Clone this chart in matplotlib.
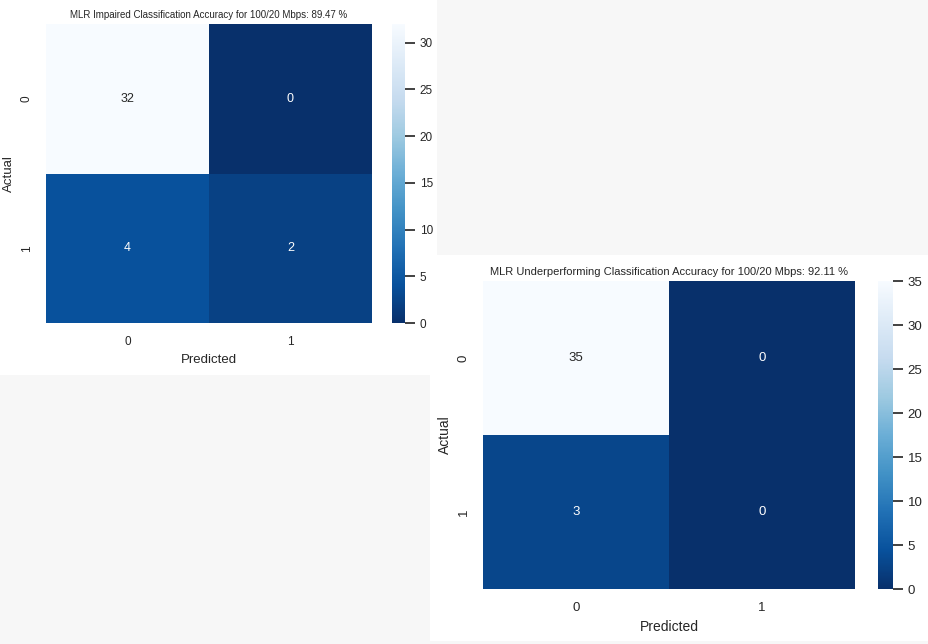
import numpy as np
import matplotlib
matplotlib.use('Agg')
import matplotlib.pyplot as plt
from matplotlib.patches import Rectangle
import seaborn as sns

# confusion matrices
labels = ['0', '1']
cm_impaired = np.array([[32, 0],
                        [4, 2]])
cm_under = np.array([[35, 0],
                     [3, 0]])
acc_impaired = 89.47
acc_under = 92.11

sns.set_theme(style='darkgrid')
plt.rcParams['font.family'] = ['Liberation Sans', 'DejaVu Sans']

W, H = 929, 644
fig = plt.figure(figsize=(W / 100, H / 100), dpi=100)
fig.patch.set_facecolor('#f7f7f7')


def px_box(x0, y0, x1, y1):
    # pixel box (top-left origin) -> figure fraction [l, b, w, h]
    return [x0 / W, (H - y1) / H, (x1 - x0) / W, (y1 - y0) / H]


# white panels behind each plot
for (x0, y0, x1, y1) in [(0, 0, 437, 375), (430, 255, 929, 641)]:
    l, b, w, h = px_box(x0, y0, x1, y1)
    fig.patches.append(Rectangle((l, b), w, h, transform=fig.transFigure,
                                 facecolor='white', edgecolor='none', zorder=-5))


def draw_cm(cm, title, ax_box, cb_box, fs_title, fs_tick, fs_annot, fs_label, tick_len):
    ax = fig.add_axes(px_box(*ax_box))
    cax = fig.add_axes(px_box(*cb_box))
    sns.heatmap(cm, annot=True, fmt='d', cmap='Blues_r', ax=ax, cbar_ax=cax,
                xticklabels=labels, yticklabels=labels,
                annot_kws={'fontsize': fs_annot})
    ax.set_title(title, fontsize=fs_title, pad=4)
    ax.set_xlabel('Predicted', fontsize=fs_label)
    ax.set_ylabel('Actual', fontsize=fs_label)
    ax.tick_params(labelsize=fs_tick)
    cax.tick_params(labelsize=fs_tick, length=tick_len, width=1.3, color='#333333')
    return ax


draw_cm(cm_impaired,
        'MLR Impaired Classification Accuracy for 100/20 Mbps: {:.2f} %'.format(acc_impaired),
        (46, 24, 372, 323), (392, 24, 405, 323), 7, 8.5, 9, 9.5, 7)

draw_cm(cm_under,
        'MLR Underperforming Classification Accuracy for 100/20 Mbps: {:.2f} %'.format(acc_under),
        (483, 281, 855, 589), (878, 281, 893, 589), 8, 9.5, 9.5, 10, 7)

fig.savefig('out.png', dpi=100, facecolor=fig.get_facecolor())
